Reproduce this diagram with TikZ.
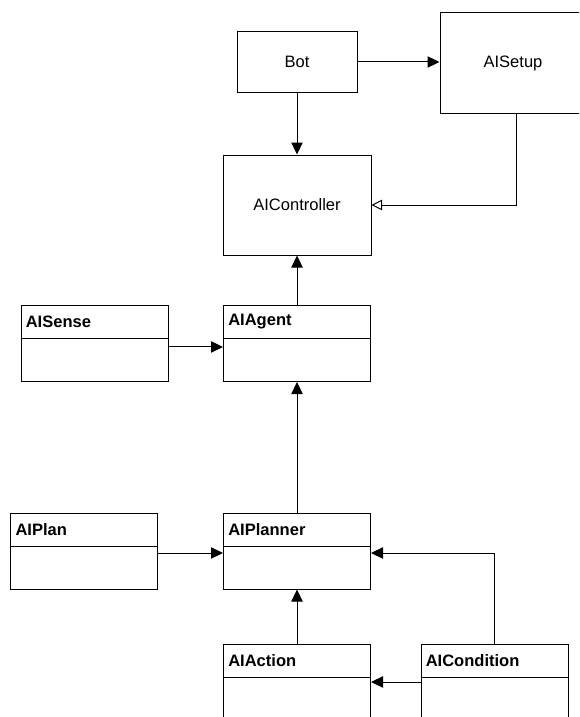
\documentclass[tikz,border=0pt]{standalone}
\usepackage{fontspec}
\setmainfont{Liberation Sans}
\usetikzlibrary{arrows.meta}
\tikzset{
  every node/.style={font=\fontsize{12.4}{15}\selectfont},
  plainbox/.style={draw, line width=0.75pt, inner sep=0pt},
  classbox/.style={draw, line width=0.75pt, inner sep=0pt,
    minimum width=110.25pt, minimum height=57pt},
  classname/.style={anchor=north west, inner sep=3.75pt,
    minimum width=110.25pt, minimum height=24.75pt,
    text width=102.75pt, align=left, font=\fontsize{12.4}{15}\selectfont\bfseries},
  assoc/.style={-{Triangle[length=9pt, width=8.5pt]}, line width=0.75pt},
  inherit/.style={-{Triangle[open, length=8pt, width=8pt]}, line width=0.75pt},
}
\begin{document}
\begin{tikzpicture}[x=0.75pt, y=-0.75pt]
        \useasboundingbox (0,0) rectangle (579,717);
        \clip (0,0) rectangle (579,717);

        \node[plainbox, minimum width=90pt, minimum height=45pt] (bot) at (297,62) {Bot};
        \node[plainbox, minimum width=109.5pt, minimum height=75pt] (setup) at (513,63) {AISetup};
        \node[plainbox, minimum width=111pt, minimum height=75pt] (ctrl) at (297,205) {AIController};

        \node[classbox] (sense) at (94.5,343.5) {};
        \node[classname] (sensename) at (sense.north west) {AISense};
        \draw[line width=0.75pt] (sensename.south west) -- (sensename.south east);

        \node[classbox] (agent) at (297,343.5) {};
        \node[classname] (agentname) at (agent.north west) {AIAgent};
        \draw[line width=0.75pt] (agentname.south west) -- (agentname.south east);

        \node[classbox] (plan) at (84.25,551) {};
        \node[classname] (planname) at (plan.north west) {AIPlan};
        \draw[line width=0.75pt] (planname.south west) -- (planname.south east);

        \node[classbox] (planner) at (297,551) {};
        \node[classname] (plannername) at (planner.north west) {AIPlanner};
        \draw[line width=0.75pt] (plannername.south west) -- (plannername.south east);

        \node[classbox] (action) at (297,682) {};
        \node[classname] (actionname) at (action.north west) {AIAction};
        \draw[line width=0.75pt] (actionname.south west) -- (actionname.south east);

        \node[classbox] (cond) at (494.5,682) {};
        \node[classname] (condname) at (cond.north west) {AICondition};
        \draw[line width=0.75pt] (condname.south west) -- (condname.south east);

        % connectors
        \draw[assoc] (bot.east) -- (bot.east -| setup.west);
        \draw[assoc] (bot.south) -- (ctrl.north);
        \draw[inherit] ([xshift=2.25pt]setup.south) |- (ctrl.east);
        \draw[assoc] (agent.north) -- (ctrl.south);
        \draw[assoc] ([yshift=-2.6pt]sense.east) -- ([yshift=-2.6pt]agent.west);
        \draw[assoc] (planner.north) -- (agent.south);
        \draw[assoc] ([yshift=-1.5pt]plan.east) -- ([yshift=-1.5pt]planner.west);
        \draw[assoc] (action.north) -- (planner.south);
        \draw[assoc] (cond.north) |- ([yshift=-1.5pt]planner.east);
        \draw[assoc] (cond.west) -- (action.east);

\end{tikzpicture}
\end{document}
